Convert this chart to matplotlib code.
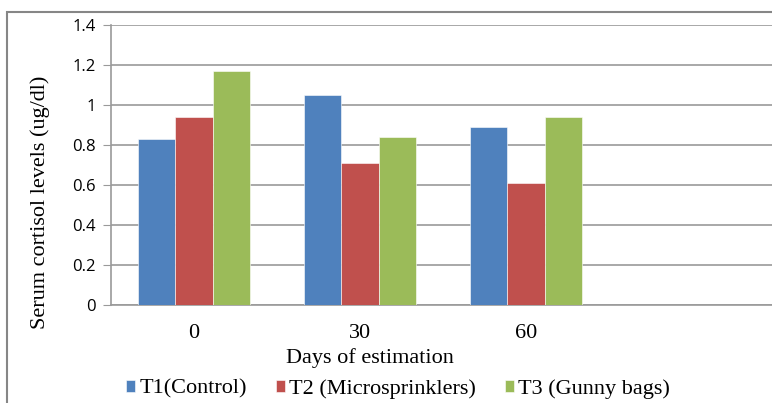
import matplotlib
matplotlib.use('Agg')
import matplotlib.pyplot as plt
from matplotlib.patches import Rectangle
import numpy as np

days = ['0', '30', '60', '']
series = ['T1(Control)', 'T2 (Microsprinklers)', 'T3 (Gunny bags)']
t1 = [0.83, 1.05, 0.89]
t2 = [0.94, 0.71, 0.61]
t3 = [1.17, 0.84, 0.94]
colors = ['#4F81BD', '#C0504D', '#9BBB59']
yticks = [0, 0.2, 0.4, 0.6, 0.8, 1.0, 1.2, 1.4]
ytick_labels = ['0', '0.2', '0.4', '0.6', '0.8', '1', '1.2', '1.4']

W, H = 772, 403
fig = plt.figure(figsize=(W / 100, H / 100), dpi=100, facecolor='white')
ax = fig.add_axes([111 / W, 1 - 305 / H, 664 / W, 280 / H])

serif = 'Liberation Serif'
sans = 'Open Sans'
grid_c = '#9a9a9a'

x = np.arange(len(days))
width = 0.223
for i, (vals, c) in enumerate(zip([t1, t2, t3], colors)):
    ax.bar(x[:len(vals)] + (i - 1) * width, vals, width, color=c,
           edgecolor='white', linewidth=0.4, label=series[i], zorder=3)

ax.set_xlim(-0.5, len(days) - 0.5)
ax.set_ylim(0, 1.4)
ax.set_yticks(yticks)
ax.set_yticklabels(ytick_labels, fontfamily=sans, fontsize=12)
ax.set_xticks(x)
ax.set_xticklabels(days, fontfamily=serif, fontsize=16)
ax.tick_params(axis='x', length=0, pad=14)
ax.tick_params(axis='y', length=6, color=grid_c, pad=5)
ax.grid(True, axis='y', color=grid_c, linewidth=1.2, zorder=0)
ax.set_axisbelow(True)
for s in ['top', 'right']:
    ax.spines[s].set_visible(False)
ax.spines['left'].set_color(grid_c)
ax.spines['bottom'].set_color(grid_c)
ax.spines['left'].set_linewidth(1.2)
ax.spines['bottom'].set_linewidth(1.2)

fig.text(40 / W, 1 - 202 / H, 'Serum cortisol levels (ug/dl)', rotation=90,
         ha='center', va='center', fontfamily=serif, fontsize=16)
fig.text(370 / W, 1 - 358 / H, 'Days of estimation', ha='center', va='center',
         fontfamily=serif, fontsize=16)

leg = fig.legend(loc='center', bbox_to_anchor=(398 / W, 1 - 389 / H), ncol=3,
                 frameon=False, prop={'family': serif, 'size': 16},
                 handlelength=0.4, handleheight=0.4, handletextpad=0.2,
                 columnspacing=1.3, borderaxespad=0, borderpad=0)

# outer chart border
fig.add_artist(Rectangle((7 / W, -0.1), 1.0, 1 - 12 / H + 0.1,
                         transform=fig.transFigure, fill=False,
                         edgecolor='#868686', linewidth=1.5))

plt.savefig('out.png', dpi=100, facecolor='white')
plt.close()
